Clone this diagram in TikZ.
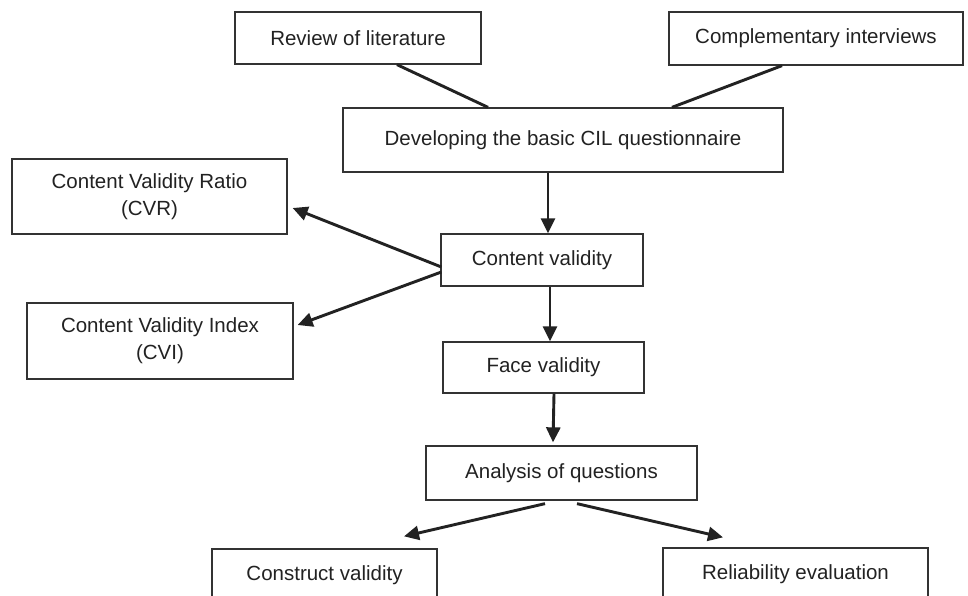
\documentclass[tikz,border=0pt]{standalone}
\usepackage{fontspec}
\setmainfont{Liberation Sans}
\usetikzlibrary{arrows.meta,calc}
\definecolor{boxline}{HTML}{333333}
\definecolor{ink}{HTML}{222222}
\tikzset{
  flowbox/.style={draw=boxline, line width=1.3pt, fill=white, inner sep=0pt, align=center,
    text=ink, font=\fontsize{20.5}{27}\selectfont},
  plainline/.style={draw=ink, line width=2.9pt},
  arrowline/.style={draw=ink, line width=2.9pt, -{Triangle[length=15pt,width=14pt]}}
}
\begin{document}
\begin{tikzpicture}[x=1pt,y=-1pt]
\useasboundingbox (0,0) rectangle (968,596);
\clip (0,0) rectangle (968,596);
\fill[white] (0,0) rectangle (968,596);

\node[flowbox, minimum width=246pt, minimum height=52pt] (rev) at (358,38) {Review of literature};
\node[flowbox, minimum width=294pt, minimum height=53pt] (comp) at (816,38.5) {Complementary interviews};
\node[flowbox, minimum width=440pt, minimum height=64pt] (dev) at (563,140) {Developing the basic CIL questionnaire};
\node[flowbox, minimum width=275pt, minimum height=75pt] (cvr) at (149.5,196.5) {Content Validity Ratio\\(CVR)};
\node[flowbox, minimum width=266pt, minimum height=76pt] (cvi) at (160,341) {Content Validity Index\\(CVI)};
\node[flowbox, minimum width=202pt, minimum height=52pt] (cv) at (542,260) {Content validity};
\node[flowbox, minimum width=201pt, minimum height=51pt] (face) at (543.5,367.5) {Face validity};
\node[flowbox, minimum width=271pt, minimum height=54pt] (ana) at (561.5,473) {Analysis of questions};
\node[flowbox, minimum width=225pt, minimum height=52pt] (con) at (324.5,575) {Construct validity};
\node[flowbox, minimum width=265pt, minimum height=52pt] (rel) at (795.5,574) {Reliability evaluation};

% connectors
\draw[plainline] ($(rev.south)+(39,0)$) -- ($(dev.north)+(-75,0)$);
\draw[plainline] ($(comp.south)+(-34,0)$) -- ($(dev.north)+(109,0)$);
\draw[arrowline] ($(dev.south)+(-15,0)$) -- ($(cv.north)+(6,0)$);
\draw[arrowline] ($(cv.west)+(1,7)$) -- ($(cvr.east)+(5,11.5)$);
\draw[arrowline] ($(cv.west)+(1,12)$) -- ($(cvi.east)+(4,-16)$);
\draw[arrowline] ($(cv.south)+(8,0)$) -- ($(face.north)+(6.5,0)$);
\draw[arrowline] ($(face.south)+(10.5,0)$) -- ($(ana.north)+(-8.5,-3)$);
\draw[arrowline] ($(ana.south)+(-16.5,3)$) -- ($(con.north)+(79.5,-12)$);
\draw[arrowline] ($(ana.south)+(15.5,3)$) -- ($(rel.north)+(-72.5,-10)$);
\end{tikzpicture}
\end{document}
